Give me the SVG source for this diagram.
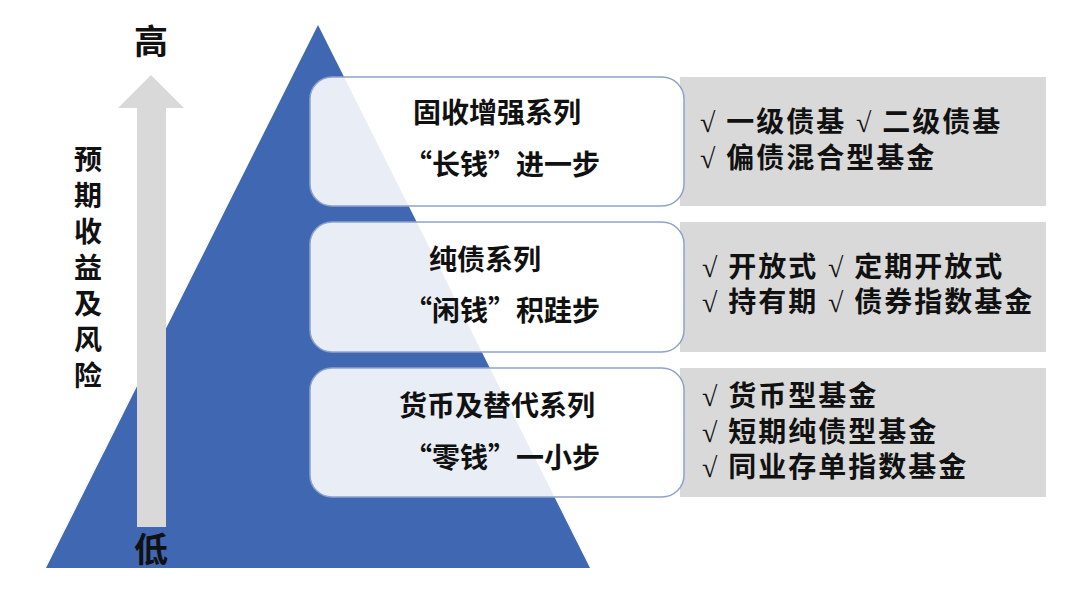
<svg xmlns="http://www.w3.org/2000/svg" width="1080" height="592" viewBox="0 0 1080 592">
<style>
.t{font-family:"Noto Sans CJK SC","Liberation Serif",sans-serif;font-weight:bold;fill:#111;}
.s{font-family:"Liberation Serif","Noto Sans CJK SC",serif;font-weight:bold;fill:#111;}
.bx{fill:#ffffff;fill-opacity:0.88;stroke:#8ea3cb;stroke-width:1.5;}
.pn{fill:#d9d9d9;}
.bt{font-size:28px;text-anchor:middle;}
.pt{font-size:28px;letter-spacing:2px;}
</style>
<rect width="1080" height="592" fill="#ffffff"/>
<g id="pyramid">
<polygon points="318,25 46,568 590,568" fill="#4068b2"/>
</g>
<g id="axis">
<polygon points="137,527 137,108 118,108 151,75 184,108 166,108 166,527" fill="#d9d9d9"/>
<text class="s" x="151" y="54" font-size="34" text-anchor="middle">高</text>
<text class="s" x="151" y="562" font-size="34" text-anchor="middle">低</text>
<g class="s" font-size="28" text-anchor="middle">
<text x="88" y="170">预</text>
<text x="88" y="206">期</text>
<text x="88" y="242">收</text>
<text x="88" y="278">益</text>
<text x="88" y="314">及</text>
<text x="88" y="350">风</text>
<text x="88" y="386">险</text>
</g>
</g>
<g id="panel1">
<rect class="pn" x="680" y="77" width="366" height="129"/>
<text class="s pt" x="700" y="132">√ 一级债基</text>
<text class="s pt" x="856" y="132">√ 二级债基</text>
<text class="s pt" x="700" y="168">√ 偏债混合型基金</text>
</g>
<g id="panel2">
<rect class="pn" x="680" y="222" width="366" height="130"/>
<text class="s pt" x="702" y="277">√ 开放式</text>
<text class="s pt" x="828" y="277">√ 定期开放式</text>
<text class="s pt" x="702" y="312">√ 持有期</text>
<text class="s pt" x="828" y="312">√ 债券指数基金</text>
</g>
<g id="panel3">
<rect class="pn" x="680" y="368" width="366" height="129"/>
<text class="s pt" x="702" y="406">√ 货币型基金</text>
<text class="s pt" x="702" y="442">√ 短期纯债型基金</text>
<text class="s pt" x="702" y="477">√ 同业存单指数基金</text>
</g>
<g id="box1">
<rect class="bx" x="310" y="77" width="374" height="129" rx="22"/>
<text class="t bt" x="497" y="123">固收增强系列</text>
<text class="t bt" x="502" y="175">“长钱”进一步</text>
</g>
<g id="box2">
<rect class="bx" x="310" y="222" width="374" height="130" rx="22"/>
<text class="t bt" x="485" y="270">纯债系列</text>
<text class="t bt" x="502" y="321">“闲钱”积跬步</text>
</g>
<g id="box3">
<rect class="bx" x="310" y="368" width="374" height="129" rx="22"/>
<text class="t bt" x="497" y="416">货币及替代系列</text>
<text class="t bt" x="502" y="468">“零钱”一小步</text>
</g>
<g id="connectors"></g>
</svg>
